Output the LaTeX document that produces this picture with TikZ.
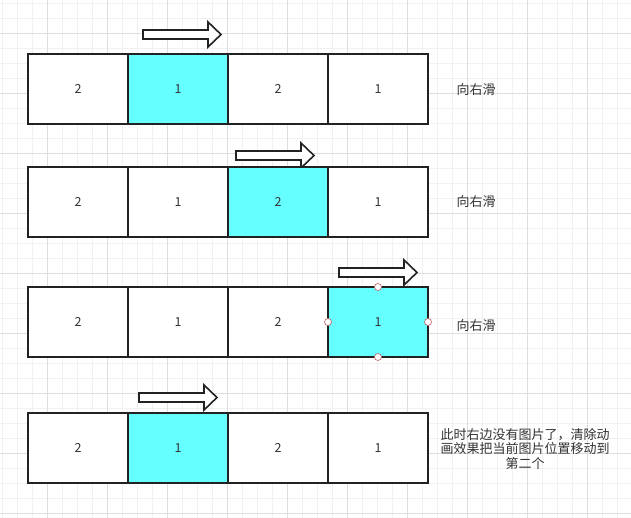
\documentclass[tikz,border=0pt]{standalone}
\usepackage{fontspec}
\setmainfont{Noto Sans CJK SC}
\usepackage{xcolor}
\definecolor{slidecyan}{HTML}{66FFFF}
\definecolor{gridminor}{HTML}{F1F1F1}
\definecolor{gridmajor}{HTML}{DEDEDE}
\definecolor{cellborder}{HTML}{222222}
\definecolor{celltext}{HTML}{333333}
\definecolor{handlered}{HTML}{C06060}

\tikzset{
    cell/.style={draw=cellborder, line width=1.5pt, fill=white, text=celltext,
        minimum width=100pt, minimum height=70pt, inner sep=0pt, outer sep=0pt,
        font=\fontsize{12.5}{14}\selectfont},
    current/.style={cell, fill=slidecyan},
    slide/.style={draw=cellborder, line width=1.6pt, fill=white, line join=miter},
    note/.style={text=celltext, align=center, font=\fontsize{13}{14.5}\selectfont},
    handle/.style={circle, draw=handlered, fill=white, line width=0.6pt,
        minimum size=7pt, inner sep=0pt}
}

% block arrow: left end at (#1,#2)
\newcommand{\slidearrow}[2]{%
    \draw[slide] (#1,#2) ++(0,-4.5) -- ++(65,0) -- ++(0,-8) -- ++(13,12.5)
        -- ++(-13,12.5) -- ++(0,-8) -- ++(-65,0) -- cycle;}

\begin{document}
\begin{tikzpicture}[x=1pt, y=-1pt]
    \fill[white] (0,0) rectangle (631,518);
    \useasboundingbox (0,0) rectangle (631,518);
    % grid
    \foreach \x in {2,17,...,631} \draw[gridminor, line width=0.6pt] (\x,0) -- (\x,518);
    \foreach \y in {3,18,...,518} \draw[gridminor, line width=0.6pt] (0,\y) -- (631,\y);
    \foreach \x in {47,107,...,631} \draw[gridmajor, line width=0.8pt] (\x,0) -- (\x,518);
    \foreach \y in {33,93,...,518} \draw[gridmajor, line width=0.8pt] (0,\y) -- (631,\y);

    % arrows
    \slidearrow{143}{34.5}
    \slidearrow{236}{155.5}
    \slidearrow{339}{272.5}
    \slidearrow{139}{397.5}

    % cells
    \foreach \row/\y/\cur in {1/89/2, 2/202/3, 3/322/4, 4/448/2} {
        \foreach \col/\x/\num in {1/78/2, 2/178/1, 3/278/2, 4/378/1} {
            \ifnum\col=\cur \def\look{current}\else \def\look{cell}\fi
            \node[\look] (cell-\row-\col) at (\x,\y) {\num};
        }
    }

    % selection handles
    \foreach \side in {north, south, east, west}
        \node[handle] (handle-\side) at (cell-3-4.\side) {};

    % notes
    \node[note] (note-1) at (476,90) {向右滑};
    \node[note] (note-2) at (476,202) {向右滑};
    \node[note] (note-3) at (476,326) {向右滑};
    \node[note] (note-4) at (525,449) {此时右边没有图片了，清除动\\画效果把当前图片位置移动到\\第二个};
\end{tikzpicture}
\end{document}
